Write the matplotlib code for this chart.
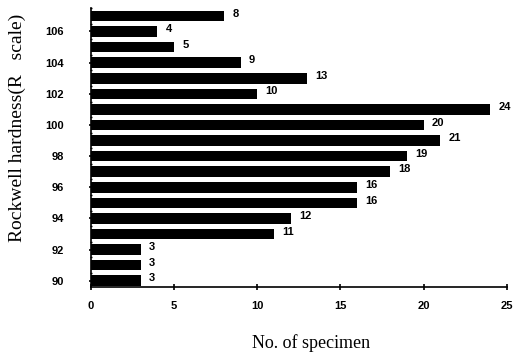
import matplotlib
matplotlib.use("Agg")
import matplotlib.pyplot as plt

hardness = list(range(90, 108))
counts = [3, 3, 3, 11, 12, 16, 16, 18, 19, 21, 20, 24, 10, 13, 9, 5, 4, 8]
ytick_vals = [90, 92, 94, 96, 98, 100, 102, 104, 106]
xtick_vals = [0, 5, 10, 15, 20, 25]

fig = plt.figure(figsize=(5.13, 3.53), dpi=100)
ax = fig.add_axes([0.177, 0.187, 0.811, 0.79])

ax.barh(hardness, counts, height=0.68, color="black")
for h, c in zip(hardness, counts):
    ax.text(c + 0.5, h + 0.15, str(c), va="center", ha="left",
            fontsize=8, fontweight="bold", family="Liberation Sans")

ax.set_xlim(0, 25)
ax.set_ylim(89.6, 107.35)
ax.set_xticks(xtick_vals)
ax.set_yticks(ytick_vals)
ax.set_yticks([v + 0.5 for v in hardness], minor=True)
ax.tick_params(axis="both", labelsize=8, width=1.2)
ax.tick_params(axis="x", direction="inout", length=4, pad=8)
ax.tick_params(axis="y", direction="inout", length=3, pad=18)
ax.tick_params(axis="y", which="minor", direction="inout", length=2, width=1)
for lab in ax.get_xticklabels() + ax.get_yticklabels():
    lab.set_fontweight("bold")
    lab.set_family("Liberation Sans")

for s in ["top", "right"]:
    ax.spines[s].set_visible(False)
ax.spines["left"].set_linewidth(1.2)
ax.spines["bottom"].set_linewidth(1.2)

ax.set_xlabel("No. of specimen", family="Liberation Serif", fontsize=13)
ax.xaxis.set_label_coords(0.53, -0.17)
ax.set_ylabel("Rockwell hardness(R   scale)", family="Liberation Serif", fontsize=14)
ax.yaxis.set_label_coords(-0.155, 0.57)

fig.savefig("out.png", dpi=100)
